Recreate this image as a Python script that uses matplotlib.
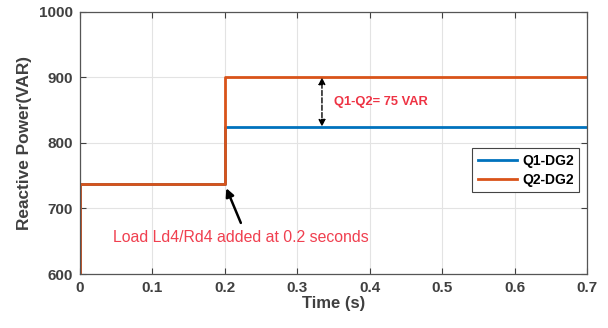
import matplotlib.pyplot as plt

# step responses
t_q1 = [0, 0, 0.2, 0.2, 0.7]
q1_dg2 = [600, 737, 737, 825, 825]
t_q2 = [0, 0, 0.2, 0.2, 0.7]
q2_dg2 = [600, 737, 737, 900, 900]

x_ticks = [0, 0.1, 0.2, 0.3, 0.4, 0.5, 0.6, 0.7]
x_labels = ['0', '0.1', '0.2', '0.3', '0.4', '0.5', '0.6', '0.7']
y_ticks = [600, 700, 800, 900, 1000]

plt.rcParams['font.family'] = ['Liberation Sans', 'DejaVu Sans']

fig = plt.figure(figsize=(6.08, 3.28), dpi=100)
ax = fig.add_axes([0.1316, 0.1646, 0.834, 0.799])

ax.plot(t_q1, q1_dg2, color='#0072BD', lw=2, label='Q1-DG2')
ax.plot(t_q2, q2_dg2, color='#D95319', lw=2, label='Q2-DG2')

ax.set_xlim(0, 0.7)
ax.set_ylim(600, 1000)
ax.set_xticks(x_ticks)
ax.set_xticklabels(x_labels)
ax.set_yticks(y_ticks)
ax.grid(True, color='#e3e3e3', lw=0.8)
ax.tick_params(direction='in', top=True, right=True, labelsize=11,
               colors='#404040', length=4, width=0.8, pad=5)
for lbl in ax.get_xticklabels() + ax.get_yticklabels():
    lbl.set_fontweight('bold')
for sp in ax.spines.values():
    sp.set_color('#555555')
    sp.set_linewidth(0.9)

ax.set_xlabel('Time (s)', fontsize=12, fontweight='bold', color='#404040', labelpad=1)
ax.set_ylabel('Reactive Power(VAR)', fontsize=12.4, fontweight='bold', color='#404040', labelpad=5)

# double arrow showing difference
ax.annotate('', xy=(0.334, 900), xytext=(0.334, 825),
            arrowprops=dict(arrowstyle='<|-|>', color='black', lw=1, ls='--',
                            mutation_scale=10, shrinkA=0, shrinkB=0))
ax.text(0.35, 862, 'Q1-Q2= 75 VAR', color='#ee3344', fontsize=9.3,
        fontweight='bold', va='center')

ax.annotate('', xy=(0.202, 731), xytext=(0.222, 678),
            arrowprops=dict(arrowstyle='-|>', color='black', lw=1.8,
                            mutation_scale=12, shrinkA=0, shrinkB=0))
ax.text(0.046, 655, 'Load Ld4/Rd4 added at 0.2 seconds', color='#f04050',
        fontsize=11.4, va='center')

leg = ax.legend(loc='upper right', bbox_to_anchor=(0.99, 0.49),
                prop={'weight': 'bold', 'size': 10}, fancybox=False,
                edgecolor='#444444', framealpha=1, handlelength=2.8,
                borderpad=0.4, labelspacing=0.35, handletextpad=0.4,
                borderaxespad=0.2)
leg.get_frame().set_linewidth(0.8)

fig.savefig('out.png', dpi=100)
